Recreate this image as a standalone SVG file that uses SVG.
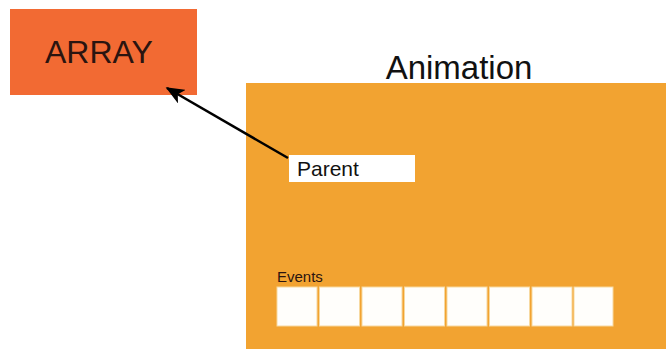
<svg xmlns="http://www.w3.org/2000/svg" width="666" height="349" viewBox="0 0 666 349">
<style>
.lbl{font-family:"Liberation Sans",Arial,sans-serif;fill:#111}
.slot{fill:#fffefb;stroke:#f7d9a0;stroke-width:1}
</style>
<defs>
<marker id="ah" viewBox="0 0 12 10" refX="11" refY="5" markerWidth="7.5" markerHeight="6.25" orient="auto" markerUnits="strokeWidth">
<path d="M0,0 L12,5 L0,10 L3,5 Z" fill="#000"/>
</marker>
</defs>
<rect width="666" height="349" fill="#fff"/>
<g id="array">
<rect x="10" y="9" width="187" height="86" fill="#f26a33"/>
<text class="lbl" x="45" y="63" font-size="32" style="fill:#2a1410">ARRAY</text>
</g>
<g id="animation">
<text class="lbl" x="459" y="79" font-size="33" text-anchor="middle">Animation</text>
<rect x="246" y="83" width="420" height="266" fill="#f2a331"/>
<g id="parent">
<rect x="289" y="155" width="126" height="27" fill="#fff"/>
<text class="lbl" x="297" y="176" font-size="21">Parent</text>
</g>
<g id="events">
<text class="lbl" x="277" y="282" font-size="15" style="fill:#2a1410">Events</text>
<rect class="slot" x="277" y="287" width="40" height="39"/>
<rect class="slot" x="319.5" y="287" width="40" height="39"/>
<rect class="slot" x="362" y="287" width="40" height="39"/>
<rect class="slot" x="404.5" y="287" width="40" height="39"/>
<rect class="slot" x="447" y="287" width="40" height="39"/>
<rect class="slot" x="489.5" y="287" width="40" height="39"/>
<rect class="slot" x="532" y="287" width="40" height="39"/>
<rect class="slot" x="574" y="287" width="39" height="39"/>
</g>
</g>
<g id="connectors">
<line x1="288" y1="158" x2="167" y2="88" stroke="#000" stroke-width="2.5" marker-end="url(#ah)"/>
</g>
</svg>
